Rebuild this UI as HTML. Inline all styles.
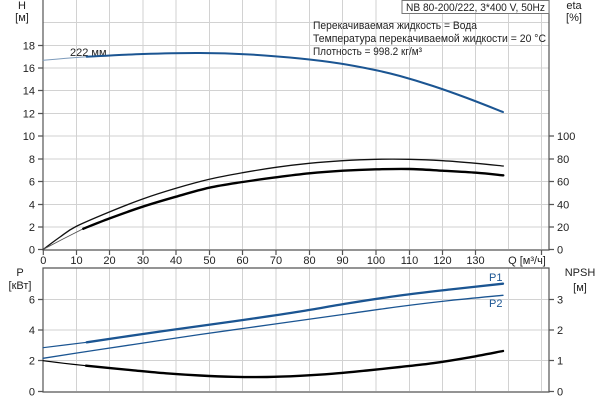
<!DOCTYPE html>
<html><head><meta charset="utf-8"><style>
body{margin:0;background:#fff}
svg{display:block;font-family:"Liberation Sans",Arial,sans-serif;font-size:11px;fill:#222}
</style></head><body>
<svg id="s" width="600" height="400" viewBox="0 0 600 400" xmlns="http://www.w3.org/2000/svg">
<g stroke="#d2d2d2" stroke-width="1">
<path d="M76.5 0V249M109.5 0V249M143 0V249M176 0V249M209.5 0V249M242.5 0V249M276 0V249M309.5 0V249M342.5 0V249M376 0V249M409.5 0V249M442.5 0V249M475.5 0V249M508.5 0V249M541.5 0V249"/>
<path d="M43 227H549M43 204.5H549M43 181.5H549M43 159H549M43 136H549M43 113.5H549M43 90.5H549M43 68H549M43 45.5H549M43 22.5H549"/>
<path d="M76.5 268V391M109.5 268V391M143 268V391M176 268V391M209.5 268V391M242.5 268V391M276 268V391M309.5 268V391M342.5 268V391M376 268V391M409.5 268V391M442.5 268V391M475.5 268V391M508.5 268V391M541.5 268V391"/>
<path d="M43 360.5H549M43 330H549M43 299.5H549"/>
</g>
<g stroke="#555" stroke-width="1.2" fill="none">
<path d="M43 0V250H549V0"/>
<path d="M43 268H549V392H43Z"/>
<path d="M38 249.5H43M38 227H43M38 204.5H43M38 181.5H43M38 159H43M38 136H43M38 113.5H43M38 90.5H43M38 68H43M38 45.5H43"/>
<path d="M549 249.5H554M549 227H554M549 204.5H554M549 181.5H554M549 159H554M549 136H554"/>
<path d="M43.3 250V255M76.5 250V255M109.5 250V255M143 250V255M176 250V255M209.5 250V255M242.5 250V255M276 250V255M309.5 250V255M342.5 250V255M376 250V255M409.5 250V255M442.5 250V255M475.5 250V255M541.5 250V255"/>
<path d="M38 391.5H43M38 360.5H43M38 330H43M38 299.5H43"/>
<path d="M549 391.5H554M549 360.5H554M549 330H554M549 299.5H554"/>
</g>
<rect x="402" y="0.5" width="147" height="13" fill="#fff" stroke="#777"/>
<text x="406" y="11" textLength="139" lengthAdjust="spacingAndGlyphs">NB 80-200/222, 3*400 V, 50Hz</text>
<text x="313" y="29" textLength="164" lengthAdjust="spacingAndGlyphs">Перекачиваемая жидкость = Вода</text>
<text x="313" y="42" textLength="233" lengthAdjust="spacingAndGlyphs">Температура перекачиваемой жидкости = 20 °C</text>
<text x="313" y="55" textLength="109" lengthAdjust="spacingAndGlyphs">Плотность = 998.2 кг/м³</text>
<g text-anchor="end">
<text x="35" y="253.5">0</text><text x="35" y="231">2</text><text x="35" y="208.5">4</text><text x="35" y="185.5">6</text><text x="35" y="163">8</text><text x="35" y="140">10</text><text x="35" y="117.5">12</text><text x="35" y="94.5">14</text><text x="35" y="72">16</text><text x="35" y="49.5">18</text>
<text x="35" y="395.5">0</text><text x="35" y="364.5">2</text><text x="35" y="334">4</text><text x="35" y="303.5">6</text>
</g>
<g text-anchor="start">
<text x="557" y="253.5">0</text><text x="557" y="231">20</text><text x="557" y="208.5">40</text><text x="557" y="185.5">60</text><text x="557" y="163">80</text><text x="557" y="140">100</text>
<text x="557" y="395.5">0</text><text x="557" y="364.5">1</text><text x="557" y="334">2</text><text x="557" y="303.5">3</text>
</g>
<g text-anchor="middle">
<text x="43.3" y="264">0</text><text x="76.5" y="264">10</text><text x="109.5" y="264">20</text><text x="143" y="264">30</text><text x="176" y="264">40</text><text x="209.5" y="264">50</text><text x="242.5" y="264">60</text><text x="276" y="264">70</text><text x="309.5" y="264">80</text><text x="342.5" y="264">90</text><text x="376" y="264">100</text><text x="409.5" y="264">110</text><text x="442.5" y="264">120</text><text x="475.5" y="264">130</text>
<text x="527" y="264">Q [м³/ч]</text>
<text x="22" y="9">H</text><text x="22" y="21">[м]</text>
<text x="574" y="9">eta</text><text x="574" y="21">[%]</text>
<text x="20" y="276">P</text><text x="20" y="289">[кВт]</text>
<text x="580" y="276">NPSH</text><text x="580" y="291">[м]</text>
</g>
<text x="70" y="56">222 мм</text>
<text x="489" y="281" fill="#1b5592">P1</text>
<text x="489" y="307" fill="#1b5592">P2</text>
<g id="c" fill="none" stroke-linejoin="round" stroke-linecap="round"></g>
</svg>
<script>
function cr(p){var d="M"+p[0][0]+" "+p[0][1];for(var i=0;i<p.length-1;i++){var a=p[i-1]||p[i],b=p[i],c=p[i+1],e=p[i+2]||c;
d+="C"+(b[0]+(c[0]-a[0])/6).toFixed(2)+" "+(b[1]+(c[1]-a[1])/6).toFixed(2)+" "+(c[0]-(e[0]-b[0])/6).toFixed(2)+" "+(c[1]-(e[1]-b[1])/6).toFixed(2)+" "+c[0]+" "+c[1];}return d;}
var g=document.getElementById("c");
function add(p,col,w){var e=document.createElementNS("http://www.w3.org/2000/svg","path");e.setAttribute("d",cr(p));e.setAttribute("stroke",col);e.setAttribute("stroke-width",w);g.appendChild(e);}
add([[43.3,60.3],[65,58.4],[86.7,56.7]],"#7d9bbb",1);
add([[86.7,56.7],[143,54],[200,53],[250,54.5],[300,58.5],[340,63.5],[375,70],[400,76],[433,86],[467,98],[503,112]],"#1b5592",2);
add([[43.3,249.3],[60,237],[76,226.5],[109.3,212],[142.7,199],[176,188.3],[209.3,179.3],[242.7,172.7],[276,167.3],[309.3,163.3],[342.7,160.7],[376,159.3],[409.3,159.3],[442.7,160.7],[476,163.3],[503.3,166]],"#111",1.3);
add([[43.3,249.3],[63,239],[83.3,228.7]],"#555",0.9);
add([[83.3,228.7],[109.3,218.5],[142.7,206.7],[176,196.7],[209.3,187.7],[242.7,182],[276,177.3],[309.3,173.3],[342.7,170.7],[376,169.3],[409.3,169],[442.7,170.7],[476,172.7],[503.3,175.3]],"#000",2.4);
add([[43,347.7],[86.7,342.3]],"#1b5592",1.2);
add([[86.7,342.3],[143,334],[200,326],[250,319],[300,311.5],[350,303],[400,295.5],[450,289.5],[503,283.7]],"#1b5592",2.3);
add([[43,358.3],[100,349.5],[150,342],[200,334.5],[250,327.5],[300,320.5],[350,313.5],[400,306.5],[450,300.5],[503,295.3]],"#1b5592",1.3);
add([[43,360.7],[64,363.3],[86,365.7]],"#000",1.2);
add([[86,365.7],[133,370.3],[166,373.3],[200,375.5],[233,376.8],[267,377],[300,375.8],[333,373.7],[367,370.5],[400,367],[433,363.2],[467,357.8],[503,351]],"#000",2.4);
</script>
</body></html>
